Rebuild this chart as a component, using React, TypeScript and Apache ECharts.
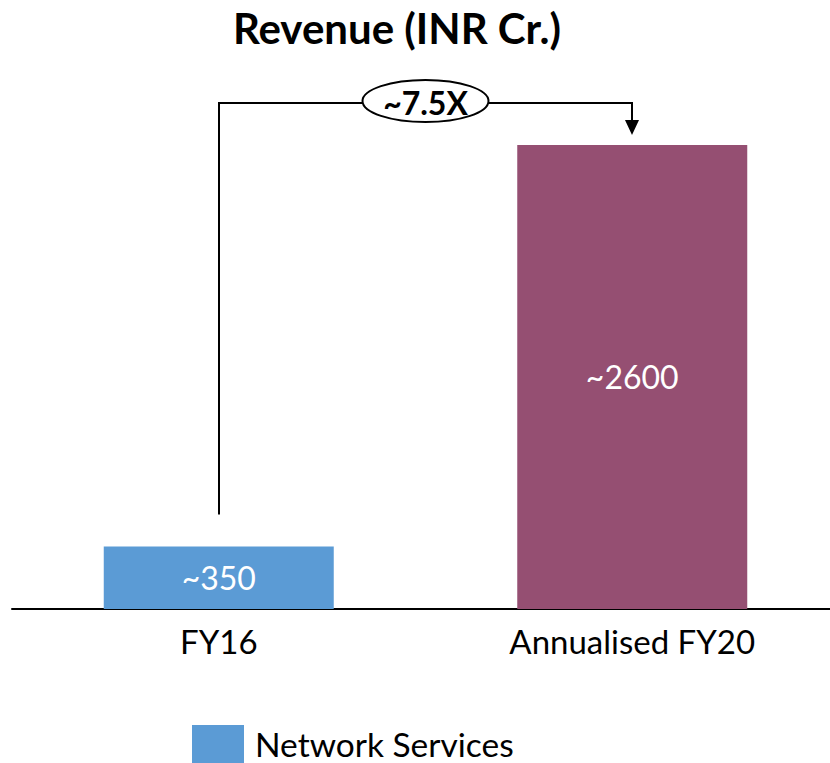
import React, { useEffect, useRef } from "react";
import * as echarts from "echarts";

const categories = ["FY16", "Annualised FY20"];
const values = [350, 2600];
const valueLabels = ["~350", "~2600"];
const barColors = ["#5B9BD5", "#954F72"];
const seriesName = "Network Services";
const titleText = "Revenue (INR Cr.)";
const growthText = "~7.5X";

const FONT = "Lato, 'Open Sans', sans-serif";

export default function App() {
  const ref = useRef<HTMLDivElement>(null);
  useEffect(() => {
    if (!ref.current) return;
    const chart = echarts.init(ref.current, undefined, { renderer: "svg" });
    chart.setOption({
      animation: false,
      backgroundColor: "#ffffff",
      title: {
        text: titleText,
        left: 392,
        textAlign: "center",
        top: 2,
        textStyle: { fontFamily: FONT, fontSize: 42, fontWeight: "bold", color: "#000" },
      },
      legend: {
        data: [seriesName],
        left: 192,
        top: 725,
        padding: 0,
        itemWidth: 52,
        itemHeight: 38,
        itemGap: 12,
        icon: "rect",
        textStyle: { fontFamily: FONT, fontSize: 33.5, color: "#000", padding: [0, 0, 4, 6] },
        itemStyle: { color: barColors[0] },
      },
      grid: { left: 12, width: 827, top: 73.6, bottom: 154, containLabel: false },
      xAxis: {
        type: "category",
        data: categories,
        axisLine: { show: true, lineStyle: { color: "#000", width: 2 } },
        axisTick: { show: false },
        axisLabel: { fontFamily: FONT, fontSize: 33, color: "#000", margin: 15 },
      },
      yAxis: {
        type: "value",
        min: 0,
        max: 3000,
        show: false,
        splitLine: { show: false },
      },
      series: [
        {
          name: seriesName,
          type: "bar",
          barWidth: 230,
          data: values.map((v, i) => ({ value: v, itemStyle: { color: barColors[i] } })),
          itemStyle: { color: barColors[0] },
          label: {
            show: true,
            position: "inside",
            formatter: (p: any) => valueLabels[p.dataIndex],
            fontFamily: FONT,
            fontSize: 32,
            color: "#fff",
          },
        },
      ],
    });

    const p0 = chart.convertToPixel({ gridIndex: 0 }, [0, values[0]]) as number[];
    const p1 = chart.convertToPixel({ gridIndex: 0 }, [1, values[1]]) as number[];
    const topY = 103;
    const x0 = Math.round(p0[0]);
    const x1 = Math.round(p1[0]);
    const midX = (x0 + x1) / 2;
    const arrowTip = p1[1] - 10;
    chart.setOption({
      graphic: [
        {
          type: "polyline",
          shape: { points: [[x0, p0[1] - 32], [x0, topY], [x1, topY], [x1, arrowTip - 14]] },
          style: { stroke: "#000", lineWidth: 2, fill: "none" },
        },
        {
          type: "polygon",
          shape: { points: [[x1 - 7, arrowTip - 15], [x1 + 7, arrowTip - 15], [x1, arrowTip]] },
          style: { fill: "#000" },
        },
        {
          type: "ellipse",
          shape: { cx: midX, cy: topY - 2, rx: 63, ry: 21 },
          style: { fill: "#fff", stroke: "#000", lineWidth: 2 },
        },
        {
          type: "text",
          x: midX,
          y: topY - 1,
          style: {
            text: growthText,
            fontFamily: FONT,
            fontSize: 32,
            fontWeight: "bold",
            fill: "#000",
            align: "center",
            verticalAlign: "middle",
          },
        },
      ],
    });
    return () => chart.dispose();
  }, []);
  return (
    <div style={{ position: "absolute", left: 0, top: 0, width: 830, height: 763, overflow: "hidden" }}>
      <div ref={ref} style={{ width: 845, height: 763 }} />
    </div>
  );
}
